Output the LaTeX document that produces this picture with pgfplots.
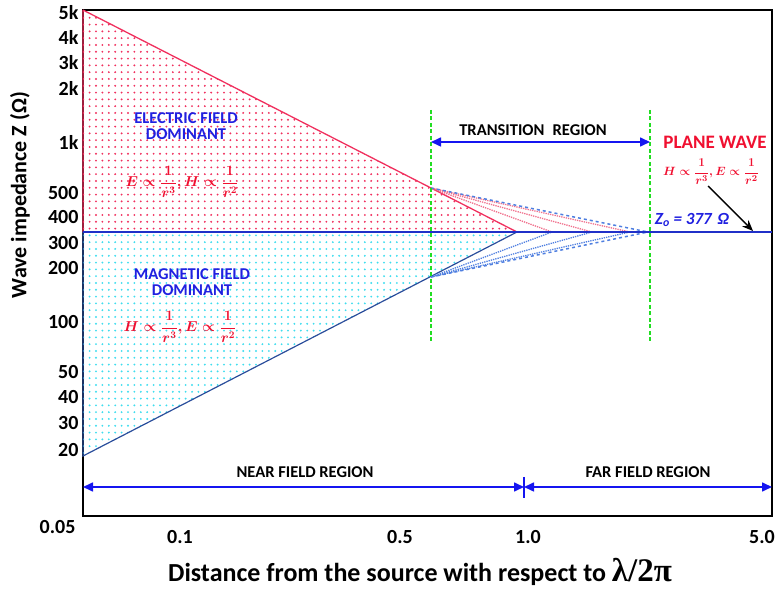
\documentclass[border=0pt]{standalone}
\usepackage{amsmath}
\usepackage{pgfplots}
\pgfplotsset{compat=1.18}
\usepackage{fontspec}
\setmainfont{Carlito}
\newfontfamily\serifb{Liberation Serif}
\usetikzlibrary{patterns,arrows.meta}

\definecolor{ered}{HTML}{F0305E}
\definecolor{hcyan}{HTML}{3FDDEE}
\definecolor{navyline}{HTML}{2A4D9B}
\definecolor{zline}{HTML}{2030C8}
\definecolor{arrblue}{HTML}{1515F0}
\definecolor{tblue}{HTML}{2020E0}
\definecolor{tred}{HTML}{F01030}
\definecolor{gdash}{HTML}{22DD22}
\definecolor{pinkdot}{HTML}{F0708C}
\definecolor{bluedot}{HTML}{4F7FE0}

\pgfdeclarepatternformonly{bigdots}{\pgfqpoint{-1.5pt}{-1.5pt}}{\pgfqpoint{1.5pt}{1.5pt}}{\pgfqpoint{6.4pt}{6.8pt}}{%
  \pgfpathcircle{\pgfqpoint{0pt}{0pt}}{1.05pt}\pgfusepath{fill}}

\newcommand{\setfs}[1]{\fontsize{#1}{#1}\selectfont}
\newcommand{\EH}{$\boldsymbol{E\propto\dfrac{1}{r^{3}},H\propto\dfrac{1}{r^{2}}}$}
\newcommand{\HE}{$\boldsymbol{H\propto\dfrac{1}{r^{3}},E\propto\dfrac{1}{r^{2}}}$}

\begin{document}
\begin{tikzpicture}
\begin{axis}[
  scale only axis,
  width=689pt, height=506pt,
  xmin=83, xmax=772, ymin=73, ymax=579,
  clip=false,
  axis line style={black, line width=1.3pt},
  major tick length=0pt,
  xtick={180,400,528,762},
  xticklabels={0.1,0.5,1.0,5.0},
  ytick={576,552,526,501,447,396,372,346,321,267,217,192,166,139},
  yticklabels={5k,4k,3k,2k,1k,500,400,300,200,100,50,40,30,20},
  ticklabel style={font=\bfseries\setfs{20}},
  /pgf/number format/assume math mode=true,
  xticklabel style={yshift=-11pt},
  yticklabel style={xshift=-1pt},
]
% electric field dominant region
\addplot[draw=ered, line width=1.3pt, pattern=bigdots, pattern color=ered]
  coordinates {(83,579) (517,357) (83,357) (83,579)};
% magnetic field dominant region
\addplot[draw=navyline, line width=1.2pt, pattern=bigdots, pattern color=hcyan]
  coordinates {(83,357) (517,357) (83,133) (83,357)};

% transition fans (upper)
\addplot[color=pinkdot, line width=1.3pt, densely dotted] coordinates {(431,401) (552,357)};
\addplot[color=pinkdot, line width=1.3pt, densely dotted] coordinates {(431,401) (592,357)};
\addplot[color=pinkdot, line width=1.3pt, densely dotted] coordinates {(431,401) (630,357)};
\addplot[color=bluedot, line width=1.5pt, dashed] coordinates {(431,401) (648,357)};
% transition fans (lower)
\addplot[color=bluedot, line width=1.3pt, densely dotted] coordinates {(431,312) (552,357)};
\addplot[color=bluedot, line width=1.3pt, densely dotted] coordinates {(431,312) (592,357)};
\addplot[color=bluedot, line width=1.3pt, densely dotted] coordinates {(431,312) (630,357)};
\addplot[color=bluedot, line width=1.5pt, dashed] coordinates {(431,312) (648,357)};

% free space impedance 377 ohm
\addplot[color=zline, line width=1.7pt] coordinates {(83,357) (772,357)};

% transition region boundaries
\addplot[color=gdash, line width=1.2pt, dash pattern=on 4pt off 2.5pt] coordinates {(431,479) (431,246)};
\addplot[color=gdash, line width=1.2pt, dash pattern=on 4pt off 2.5pt] coordinates {(650,479) (650,246)};
\end{axis}

% annotations: 1 axis unit = 1pt, axis corner (83,73) at the origin
\begin{scope}[x=1pt, y=1pt, shift={(-83pt,-73pt)}]
\path (0,0) rectangle (779,589);

\draw[arrblue, line width=1.6pt, arrows={Triangle[length=10pt,width=9pt]-Triangle[length=10pt,width=9pt]}]
  (431,447) -- (650,447);
\draw[arrblue, line width=1.6pt, arrows={Triangle[length=10pt,width=9pt]-Triangle[length=10pt,width=9pt]}]
  (83,102) -- (524,102);
\draw[arrblue, line width=1.6pt, arrows={Triangle[length=10pt,width=9pt]-Triangle[length=10pt,width=9pt]}]
  (524,102) -- (772,102);
\draw[arrblue, line width=1.3pt] (524,112) -- (524,91);
\draw[black, line width=1.4pt, arrows={-Stealth[length=11pt,width=9pt]}]
  (708,403) -- (753,358);

\node[text=tblue, align=center, font=\bfseries\setfs{16.5}] at (186,463) {ELECTRIC FIELD\\DOMINANT};
\node[text=tred, font=\bfseries\setfs{14.5}] at (182,407) {\EH};
\node[text=tblue, align=center, font=\bfseries\setfs{16.5}] at (192,307) {MAGNETIC FIELD\\DOMINANT};
\node[text=tred, font=\bfseries\setfs{14.5}] at (180,262) {\HE};
\node[text=black, font=\bfseries\setfs{16.5}] at (533,459) {TRANSITION\enspace REGION};
\node[text=tred, font=\bfseries\setfs{19}] at (715,447) {PLANE WAVE};
\node[text=tred, font=\bfseries\setfs{13}] at (711,417) {\HE};
\node[text=tblue, font=\bfseries\itshape\setfs{17}] at (692,369) {Z\textsubscript{o} = 377\,\,Ω};
\node[text=black, font=\bfseries\setfs{16.5}] at (305,117) {NEAR FIELD REGION};
\node[text=black, font=\bfseries\setfs{16.5}] at (648,117) {FAR FIELD REGION};

\node[anchor=east, font=\bfseries\setfs{20}] at (79,62) {0.05};
\node[rotate=90, font=\bfseries\setfs{22}] at (20,394) {Wave impedance Z (Ω)};
\node[font=\bfseries\setfs{26}] at (420,17) {Distance from the source with respect to {\serifb\setfs{33}λ/2π}};
\end{scope}
\end{tikzpicture}
\end{document}
